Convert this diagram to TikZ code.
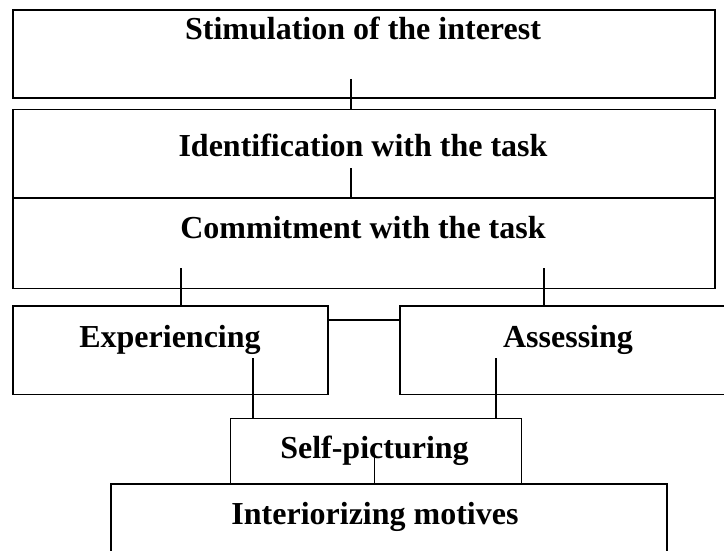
\documentclass[tikz,border=0pt]{standalone}
\usepackage{fontspec}
\setmainfont{Liberation Serif}
\usetikzlibrary{positioning}
\tikzset{
	box/.style={draw,line width=1.5pt,inner sep=0pt,anchor=north west},
	title/.style={font=\fontsize{32}{36}\selectfont\bfseries,anchor=base,inner sep=0pt},
	link/.style={line width=1.1pt}
}
\begin{document}
\begin{tikzpicture}[x=1pt,y=-1pt]
	\useasboundingbox (0,0) rectangle (724,551);
	\clip (0,0) rectangle (724,551);
	% boxes
	\node[box,minimum width=702pt,minimum height=88pt] (stim) at (12,9.5) {};
	\node[box,minimum width=702pt,minimum height=88pt] (ident) at (12,109) {};
	\node[box,minimum width=702pt,minimum height=90pt] (commit) at (12,197.5) {};
	\node[box,minimum width=315pt,minimum height=88.5pt] (exper) at (12,305) {};
	\node[box,minimum width=338pt,minimum height=88.5pt] (assess) at (399,305) {};
	\node[box,minimum width=291pt,minimum height=66pt] (selfpic) at (229.5,417.5) {};
	\node[box,minimum width=556pt,minimum height=120pt] (interior) at (110,483) {};
	% titles
	\node[title] (stimtxt) at (363,40) {Stimulation of the interest};
	\node[title] (identtxt) at (363,157) {Identification with the task};
	\node[title] (committxt) at (363,238) {Commitment with the task};
	\node[title] (expertxt) at (170,347) {Experiencing};
	\node[title] (assesstxt) at (568,347) {Assessing};
	\node[title] (selfpictxt) at (374.5,458) {Self-picturing};
	\node[title] (interiortxt) at (375,524) {Interiorizing motives};
	% connectors
	\coordinate (s1) at (351,79);
	\coordinate (s2) at (351,168);
	\coordinate (s3) at (181,268);
	\coordinate (s4) at (544,268);
	\coordinate (s5) at (253,358);
	\coordinate (s6) at (496,358);
	\coordinate (s7) at (374.5,457);
	\draw[link] (s1) -- (s1 |- ident.north);
	\draw[link] (s2) -- (s2 |- commit.north);
	\draw[link] (s3) -- (s3 |- exper.north);
	\draw[link] (s4) -- (s4 |- assess.north);
	\draw[link] ([yshift=-15pt]exper.north east) -- ([yshift=-15pt]assess.north west);
	\draw[link] (s5) -- (s5 |- selfpic.north);
	\draw[link] (s6) -- (s6 |- selfpic.north);
	\draw[link] (s7) -- (s7 |- interior.north);
\end{tikzpicture}
\end{document}
